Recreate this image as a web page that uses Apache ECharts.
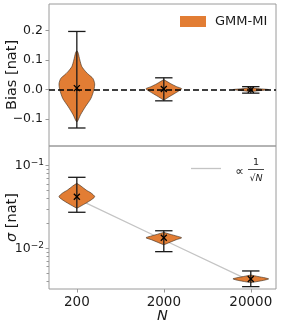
<!DOCTYPE html>
<html><head><meta charset="utf-8">
<script src="https://cdn.jsdelivr.net/npm/echarts@6/dist/echarts.min.js"></script>
<style>html,body{margin:0;padding:0;background:#fff}#c{width:283px;height:327px}</style>
</head><body><div id="c"></div>
<script>
// ---------- data ----------
const categories = ['200', '2000', '20000'];
const positions = [0, 1, 2];
const seriesName = 'GMM-MI';
const refLineName = '∝ 1/√N';

// Bias panel (nat)
const biasMin = [-0.130, -0.038, -0.012];
const biasMax = [0.197, 0.040, 0.010];
const biasMean = [0.005, 0.002, -0.001];
const biasProfileValues = [
  [0.130, 0.123, 0.100, 0.078, 0.060, 0.050, 0.038, 0.020, 0.000, -0.030, -0.057, -0.085, -0.108],
  [0.034, 0.020, 0.010, 0.003, -0.005, -0.015, -0.025, -0.036],
  [0.006, 0.003, 0.001, 0.000, -0.002, -0.004, -0.007]
];
const biasProfileDensity = [
  [0.03, 0.08, 0.17, 0.28, 0.51, 0.68, 0.90, 1.00, 0.96, 0.79, 0.49, 0.21, 0.03],
  [0.00, 0.39, 0.72, 1.00, 0.83, 0.56, 0.28, 0.00],
  [0.00, 0.50, 0.90, 1.00, 0.75, 0.40, 0.00]
];
const biasTicks = [0.2, 0.1, 0.0, -0.1];
const biasTickLabels = ['0.2', '0.1', '0.0', '−0.1'];

// Sigma panel (nat, log scale)
const sigmaMin = [0.0273, 0.0091, 0.00343];
const sigmaMax = [0.0724, 0.0163, 0.00531];
const sigmaMean = [0.0420, 0.0134, 0.00425];
const sigmaProfileValues = [
  [0.0612, 0.0568, 0.0508, 0.0467, 0.0422, 0.0385, 0.0353, 0.0325, 0.0305],
  [0.0156, 0.0148, 0.0140, 0.0134, 0.0127, 0.0119, 0.0110],
  [0.00475, 0.00455, 0.00438, 0.00425, 0.00408, 0.00395, 0.00383]
];
const sigmaProfileDensity = [
  [0.00, 0.23, 0.52, 0.80, 1.00, 0.80, 0.52, 0.23, 0.00],
  [0.00, 0.35, 0.75, 1.00, 0.70, 0.38, 0.00],
  [0.00, 0.40, 0.80, 1.00, 0.70, 0.35, 0.00]
];
const refLine = [0.040, 0.0126, 0.0040];
const sigmaTicks = [0.1, 0.01];
const sigmaTickExp = ['−1', '−2'];
const sigmaMinorTicks = [0.004, 0.005, 0.006, 0.007, 0.008, 0.009, 0.02, 0.03, 0.04, 0.05, 0.06, 0.07, 0.08, 0.09];

// ---------- style ----------
const FONT = 'DejaVu Sans';
const ORANGE = '#e27d34';
const SPINE = '#9a9a9a';
const HALF = 0.205;   // violin max half-width (x units)
const CAP = 0.10;     // cap half-width (x units)

function violinRenderer(vals, dens, mins, maxs) {
  return function (params, api) {
    const i = params.dataIndex;
    const x = api.value(0);
    const mean = api.value(1);
    const v = vals[i], d = dens[i];
    const left = [], right = [];
    for (let k = 0; k < v.length; k++) {
      left.push(api.coord([x - d[k] * HALF, v[k]]));
      right.push(api.coord([x + d[k] * HALF, v[k]]));
    }
    const pts = left.concat(right.reverse());
    const top = api.coord([x, maxs[i]]);
    const bot = api.coord([x, mins[i]]);
    const capL = api.coord([x - CAP, maxs[i]]);
    const capR = api.coord([x + CAP, maxs[i]]);
    const capL2 = api.coord([x - CAP, mins[i]]);
    const capR2 = api.coord([x + CAP, mins[i]]);
    const c = api.coord([x, mean]);
    const s = 3;
    const lineStyle = { stroke: '#1a1a1a', lineWidth: 1.3 };
    return {
      type: 'group',
      children: [
        { type: 'polygon', shape: { points: pts, smooth: 0.25 },
          style: { fill: ORANGE, stroke: 'rgba(50,40,30,0.85)', lineWidth: 0.7 } },
        { type: 'line', shape: { x1: top[0], y1: top[1], x2: bot[0], y2: bot[1] }, style: lineStyle },
        { type: 'line', shape: { x1: capL[0], y1: capL[1], x2: capR[0], y2: capR[1] }, style: lineStyle },
        { type: 'line', shape: { x1: capL2[0], y1: capL2[1], x2: capR2[0], y2: capR2[1] }, style: lineStyle },
        { type: 'line', shape: { x1: c[0] - s, y1: c[1] - s, x2: c[0] + s, y2: c[1] + s }, style: { stroke: '#000', lineWidth: 1.3 } },
        { type: 'line', shape: { x1: c[0] - s, y1: c[1] + s, x2: c[0] + s, y2: c[1] - s }, style: { stroke: '#000', lineWidth: 1.3 } }
      ]
    };
  };
}

const chart = echarts.init(document.getElementById('c'), null, { renderer: 'canvas' });
const xMin = -0.32, xMax = 2.29;

const option = {
  animation: false,
  backgroundColor: '#fff',
  textStyle: { fontFamily: FONT },
  grid: [
    { left: 49, right: 7, top: 4, height: 142, show: true, borderColor: SPINE, borderWidth: 1, backgroundColor: 'transparent', containLabel: false, outerBoundsMode: 'none' },
    { left: 49, right: 7, top: 146, height: 143, show: true, borderColor: SPINE, borderWidth: 1, backgroundColor: 'transparent', containLabel: false, outerBoundsMode: 'none' }
  ],
  xAxis: [
    { type: 'value', gridIndex: 0, min: xMin, max: xMax, show: false, axisLine: { onZero: false } },
    { type: 'value', gridIndex: 1, min: xMin, max: xMax,
      axisLine: { show: false, onZero: false }, splitLine: { show: false },
      axisTick: { show: true, customValues: positions, length: 3.5, lineStyle: { color: SPINE } },
      axisLabel: { customValues: positions, margin: 6, fontSize: 13.5, color: '#1a1a1a', fontFamily: FONT,
        formatter: v => categories[Math.round(v)] },
      name: 'N', nameLocation: 'middle', nameGap: 20, nameMoveOverlap: false,
      nameTextStyle: { fontSize: 14.5, fontStyle: 'italic', color: '#1a1a1a', fontFamily: FONT } }
  ],
  yAxis: [
    { type: 'value', gridIndex: 0, min: -0.191, max: 0.290,
      axisLine: { show: false, onZero: false }, splitLine: { show: false },
      axisTick: { show: true, customValues: biasTicks, length: 3.5, lineStyle: { color: SPINE } },
      axisLabel: { customValues: biasTicks, margin: 6, fontSize: 12.5, color: '#1a1a1a', fontFamily: FONT,
        formatter: v => { const i = biasTicks.findIndex(t => Math.abs(t - v) < 1e-9); return i >= 0 ? biasTickLabels[i] : ''; } },
      name: 'Bias [nat]', nameLocation: 'middle', nameRotate: 90, nameGap: 29, nameMoveOverlap: false,
      nameTextStyle: { fontSize: 14.5, color: '#1a1a1a', fontFamily: FONT } },
    { type: 'log', gridIndex: 1, logBase: 10, min: 0.00321, max: 0.1734,
      axisLine: { show: false, onZero: false }, splitLine: { show: false }, minorTick: { show: false },
      axisTick: { show: true, customValues: sigmaTicks, length: 3.5, lineStyle: { color: SPINE } },
      axisLabel: { customValues: sigmaTicks, margin: 5, color: '#1a1a1a', fontFamily: FONT,
        formatter: v => { const i = sigmaTicks.findIndex(t => Math.abs(Math.log10(t) - Math.log10(v)) < 1e-6); return i >= 0 ? '{b|10}{s|' + sigmaTickExp[i] + '}' : ''; },
        rich: { b: { fontSize: 12.5, color: '#1a1a1a', fontFamily: FONT }, s: { fontSize: 9, color: '#1a1a1a', fontFamily: FONT, verticalAlign: 'top', padding: [0, 0, 6, 0] } } },
      name: '{i|σ} [nat]', nameLocation: 'middle', nameRotate: 90, nameGap: 29, nameMoveOverlap: false,
      nameTextStyle: { fontSize: 14.5, color: '#1a1a1a', fontFamily: FONT,
        rich: { i: { fontSize: 14.5, fontStyle: 'italic', fontFamily: FONT, color: '#1a1a1a' } } } },
    { type: 'log', gridIndex: 1, logBase: 10, min: 0.00321, max: 0.1734, position: 'left', offset: 0,
      axisLine: { show: false, onZero: false }, splitLine: { show: false },
      axisLabel: { show: true, customValues: sigmaMinorTicks, formatter: () => '' },
      axisTick: { show: true, customValues: sigmaMinorTicks, length: 2.5, lineStyle: { color: SPINE } } }
  ],
  legend: {
    data: [{ name: seriesName, icon: 'rect' }],
    left: 180, top: 15, itemWidth: 26, itemHeight: 11, padding: 0,
    itemStyle: { borderWidth: 0 },
    textStyle: { fontSize: 13, color: '#1a1a1a', fontFamily: FONT, padding: [0, 0, 0, 4] }
  },
  series: [
    { type: 'line', name: refLineName, xAxisIndex: 1, yAxisIndex: 1, z: 1,
      data: positions.map((p, i) => [p, refLine[i]]), symbol: 'none',
      lineStyle: { color: '#c4c4c4', width: 1.3 }, itemStyle: { color: '#c4c4c4' } },
    { type: 'custom', name: seriesName, xAxisIndex: 0, yAxisIndex: 0, z: 2,
      itemStyle: { color: ORANGE },
      renderItem: violinRenderer(biasProfileValues, biasProfileDensity, biasMin, biasMax),
      data: positions.map((p, i) => [p, biasMean[i]]), encode: { x: 0, y: 1 } },
    { type: 'custom', name: seriesName + ' σ', xAxisIndex: 1, yAxisIndex: 1, z: 2,
      itemStyle: { color: ORANGE },
      renderItem: violinRenderer(sigmaProfileValues, sigmaProfileDensity, sigmaMin, sigmaMax),
      data: positions.map((p, i) => [p, sigmaMean[i]]), encode: { x: 0, y: 1 } },
    { type: 'line', name: 'zero', xAxisIndex: 0, yAxisIndex: 0, z: 5, data: [],
      markLine: { silent: true, symbol: 'none', label: { show: false },
        lineStyle: { color: '#000', width: 1.7, type: [6, 3] }, data: [{ yAxis: 0 }] } }
  ],
  graphic: [
    { type: 'line', shape: { x1: 191, y1: 168.5, x2: 221, y2: 168.5 }, style: { stroke: '#c4c4c4', lineWidth: 1.3 } },
    { type: 'text', x: 239.5, y: 172, style: { text: '∝', fontSize: 12, fontFamily: FONT, fill: '#1a1a1a', align: 'center', verticalAlign: 'middle' } },
    { type: 'text', x: 256, y: 162.5, style: { text: '1', fontSize: 9.5, fontFamily: FONT, fill: '#1a1a1a', align: 'center', verticalAlign: 'middle' } },
    { type: 'line', shape: { x1: 248, y1: 169.5, x2: 264, y2: 169.5 }, style: { stroke: '#1a1a1a', lineWidth: 0.8 } },
    { type: 'text', x: 256, y: 178.5, style: { text: '√{n|N}', fontSize: 9.5, fontFamily: FONT, fill: '#1a1a1a', align: 'center', verticalAlign: 'middle',
      rich: { n: { fontSize: 9.5, fontStyle: 'italic', fontFamily: FONT, fill: '#1a1a1a' } } } }
  ]
};
chart.setOption(option);
</script>
</body></html>
